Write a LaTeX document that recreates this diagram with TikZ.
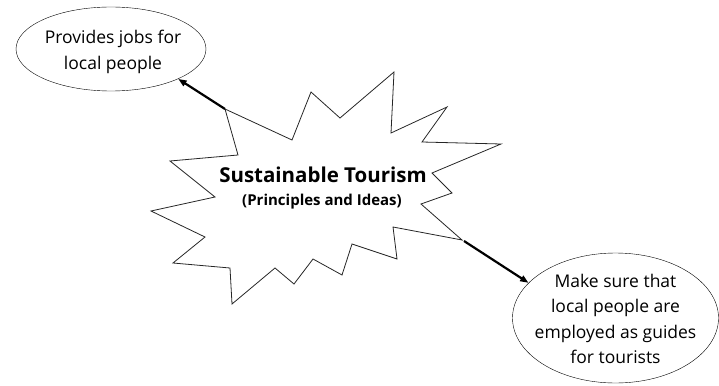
\documentclass[tikz,border=0pt]{standalone}
\usepackage{fontspec}
\setmainfont{Open Sans}
\usetikzlibrary{arrows.meta,shapes.geometric}

\begin{document}
\begin{tikzpicture}[x=1pt, y=-1pt, line join=miter,
	bubble/.style={draw, ellipse, inner sep=0pt},
	say/.style={align=center, inner sep=0pt, font=\fontsize{17.5}{25.5}\selectfont},
	link/.style={-{Triangle[angle=40:9pt]}, line width=2.2pt}]
	\useasboundingbox (0,0) rectangle (719,385);
	\node[bubble, minimum width=190pt, minimum height=84pt] (J) at (111,49) {};
	\node[say] (Jtext) at (113,52) {Provides jobs for\\local people};
	\node[bubble, minimum width=206pt, minimum height=130pt] (G) at (615.5,318) {};
	\node[say] (Gtext) at (615.5,319) {Make sure that\\local people are\\employed as guides\\for tourists};
	\draw[line width=0.8pt, black!85] (225,109) -- (292,140) -- (311,92) -- (340,118) -- (394,72)
		-- (391,133) -- (447,107) -- (422,142) -- (501,144) -- (432,173) -- (452,193)
		-- (421,204) -- (462,240) -- (393,227) -- (397,259) -- (352,244) -- (342,275)
		-- (313,259) -- (294,284) -- (275,268) -- (232,304) -- (230,268) -- (173,263)
		-- (205,237) -- (151,211) -- (215,197) -- (170,161) -- (238,155) -- cycle;
	\coordinate (S1) at (225,109);
	\coordinate (S2) at (464,241);
	\node[font=\bfseries\fontsize{20.5}{24}\selectfont] (T) at (323,175) {Sustainable Tourism};
	\node[font=\bfseries\fontsize{15}{18}\selectfont] (P) at (322,202) {(Principles and Ideas)};
	\draw[link] (S1) to (J.-24);
	\draw[link] (S2) to (G.158);
\end{tikzpicture}
\end{document}
